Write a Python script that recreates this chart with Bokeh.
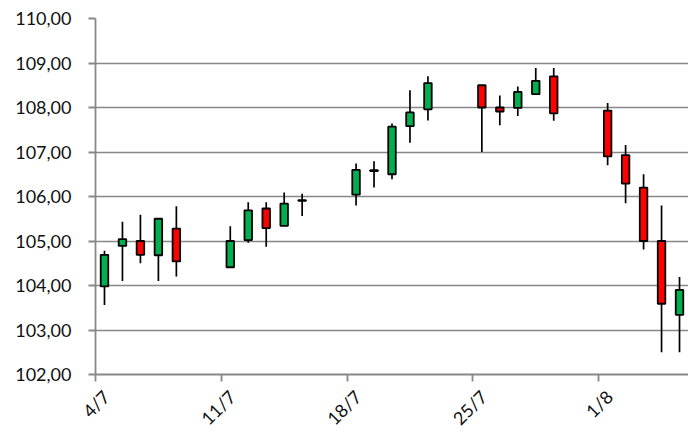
from datetime import date
from bokeh.plotting import figure
from bokeh.models import ColumnDataSource, FixedTicker, Label, Range1d, LinearAxis
from bokeh.embed import file_html
from bokeh.resources import INLINE
import math

# ---- data ----
dates = ["4/7", "5/7", "6/7", "7/7", "8/7",
         "11/7", "12/7", "13/7", "14/7", "15/7",
         "18/7", "19/7", "20/7", "21/7", "22/7",
         "25/7", "26/7", "27/7", "28/7", "29/7",
         "1/8", "2/8", "3/8", "4/8", "5/8"]
opens = [103.98, 104.89, 105.00, 104.68, 105.28,
         104.41, 105.02, 105.73, 105.34, 105.90,
         106.04, 106.57, 106.50, 107.58, 107.96,
         108.50, 108.00, 107.99, 108.30, 108.70,
         107.93, 106.93, 106.20, 105.00, 103.34]
closes = [104.69, 105.04, 104.69, 105.50, 104.54,
          105.00, 105.69, 105.29, 105.84, 105.92,
          106.60, 106.59, 107.57, 107.89, 108.55,
          108.00, 107.91, 108.35, 108.60, 107.87,
          106.90, 106.29, 105.00, 103.59, 103.90]
highs = [104.78, 105.43, 105.59, 105.50, 105.78,
         105.33, 105.87, 105.87, 106.09, 106.06,
         106.74, 106.79, 107.64, 108.39, 108.70,
         108.50, 108.27, 108.47, 108.89, 108.89,
         108.10, 107.16, 106.50, 105.80, 104.19]
lows = [103.56, 104.10, 104.50, 104.10, 104.20,
        104.41, 104.96, 104.87, 105.34, 105.56,
        105.80, 106.20, 106.39, 107.21, 107.71,
        107.00, 107.60, 107.81, 108.28, 107.70,
        106.70, 105.85, 104.81, 102.50, 102.50]
x_tick_labels = ["4/7", "11/7", "18/7", "25/7", "1/8"]
y_ticks = [102, 103, 104, 105, 106, 107, 108, 109, 110]
y_tick_labels = ["102,00", "103,00", "104,00", "105,00", "106,00",
                 "107,00", "108,00", "109,00", "110,00"]
title_text = "(R$/@)"

YEAR = 2016
def day_index(s):
    d, m = (int(v) for v in s.split("/"))
    return (date(YEAR, m, d) - date(YEAR, 7, 4)).days

xs = [day_index(s) + 0.5 for s in dates]
colors = ["#00B050" if c >= o else "#FF0000" for o, c in zip(opens, closes)]
tops = [max(o, c) for o, c in zip(opens, closes)]
bots = [min(o, c) for o, c in zip(opens, closes)]

src = ColumnDataSource(dict(x=xs, top=tops, bottom=bots, high=highs,
                            low=lows, color=colors))

FONT = "Lato"
GRAY = "#888888"

p = figure(width=688, height=439, output_backend="svg", toolbar_location=None,
           x_range=Range1d(0, 33), y_range=Range1d(102, 110),
           x_axis_location=None,
           min_border_left=95, min_border_right=0, min_border_top=18,
           min_border_bottom=61)
p.outline_line_color = None
p.background_fill_color = "white"
p.border_fill_color = "white"

p.segment(x0="x", y0="low", x1="x", y1="high", source=src,
          line_color="black", line_width=1.7)
p.vbar(x="x", width=0.42, top="top", bottom="bottom", source=src,
       fill_color="color", line_color="black", line_width=1.8)

# y axis
p.yaxis.ticker = FixedTicker(ticks=y_ticks)
p.yaxis.major_label_overrides = {t: l for t, l in zip(y_ticks, y_tick_labels)}
p.yaxis.axis_line_color = GRAY
p.yaxis.axis_line_width = 1.8
p.yaxis.major_tick_line_color = GRAY
p.yaxis.major_tick_line_width = 1.8
p.yaxis.major_tick_in = 0
p.yaxis.major_tick_out = 7
p.yaxis.minor_tick_line_color = None
p.yaxis.major_label_text_font = FONT
p.yaxis.major_label_text_font_size = "18px"
p.yaxis.major_label_text_color = "#111111"
p.yaxis.major_label_standoff = 17

# x axis: tick marks at the dates (drawn as minor ticks), rotated labels
# placed on slightly shifted major positions so they sit centred under ticks
xt = [day_index(s) for s in x_tick_labels]
SHIFT = 0.6
lab_ticks = [t + SHIFT for t in xt]
xaxis = LinearAxis(ticker=FixedTicker(ticks=lab_ticks, minor_ticks=xt),
                   major_label_overrides={t: l for t, l in zip(lab_ticks, x_tick_labels)},
                   major_label_orientation=math.pi / 4,
                   major_label_text_font=FONT,
                   major_label_text_font_size="18px",
                   major_label_text_color="#111111",
                   major_label_standoff=12,
                   axis_line_color=GRAY, axis_line_width=1.8,
                   major_tick_line_color=None, major_tick_in=0, major_tick_out=7,
                   minor_tick_line_color=GRAY, minor_tick_line_width=1.8,
                   minor_tick_in=0, minor_tick_out=7)
p.add_layout(xaxis, "below")

p.xgrid.grid_line_color = None
p.ygrid.grid_line_color = GRAY
p.ygrid.grid_line_width = 1.5

p.add_layout(Label(x=14.5, y=110.25, text=title_text, text_font=FONT,
                   text_font_size="20px", text_font_style="bold",
                   text_align="center", text_baseline="alphabetic",
                   text_color="#111111"))

open("out.html", "w").write(file_html(p, INLINE))
